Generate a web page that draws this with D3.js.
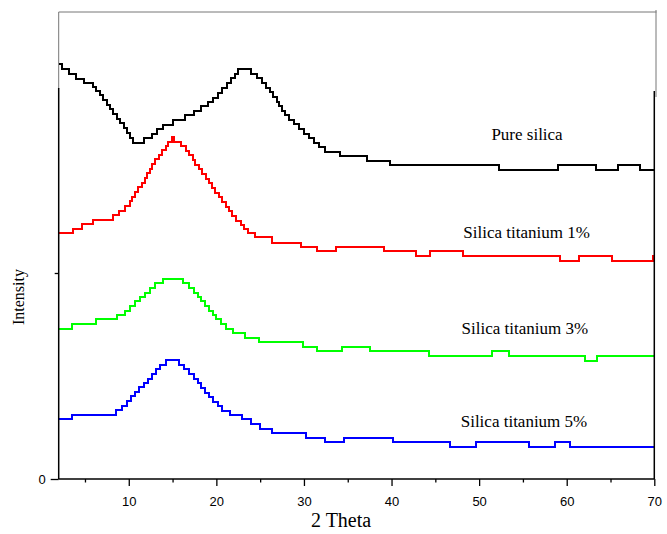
<!DOCTYPE html>
<html><head><meta charset="utf-8">
<script src="https://cdn.jsdelivr.net/npm/d3@7"></script>
<style>html,body{margin:0;padding:0;background:#fff;}svg{display:block;}</style>
</head><body>
<svg id="chart" width="667" height="534"></svg>
<script>
// 2θ (degrees) vs intensity (a.u.), step profiles
const pureSilica = [[2,2074],[2.4,2049],[3.2,2025],[4.0,2002],[4.9,1982],[5.9,1962],[6.3,1942],[6.7,1920],[7.1,1895],[7.5,1872],[7.9,1850],[8.2,1825],[8.6,1802],[9.0,1780],[9.4,1755],[9.8,1730],[10.1,1705],[10.5,1682],[11.7,1704],[12.6,1725],[13.2,1750],[13.9,1772],[15.0,1797],[16.4,1819],[17.4,1842],[18.2,1865],[19.1,1884],[19.6,1907],[20.2,1930],[20.6,1954],[21.2,1979],[21.7,2004],[22.1,2027],[22.5,2049],[24.0,2027],[24.6,2004],[25.2,1980],[25.7,1957],[26.1,1934],[26.5,1910],[26.9,1887],[27.1,1865],[27.5,1842],[27.8,1820],[28.3,1797],[28.9,1774],[29.4,1750],[30.0,1727],[30.6,1704],[31.1,1680],[31.7,1658],[32.4,1636],[34.1,1616],[37.2,1592],[39.8,1570],[52.3,1545],[59.0,1570],[63.4,1545],[65.9,1569],[68.4,1545],[70,1545]];
const titanium1 = [[2,1228],[3.6,1250],[4.7,1274],[5.9,1295],[8.2,1320],[8.9,1342],[9.6,1365],[10.1,1388],[10.4,1412],[10.7,1434],[11.1,1458],[11.5,1482],[11.8,1505],[12.1,1528],[12.4,1552],[12.7,1575],[13.0,1598],[13.4,1620],[13.8,1644],[14.2,1665],[14.5,1686],[14.9,1708],[15.2,1686],[16.0,1665],[16.5,1642],[16.9,1618],[17.3,1595],[17.6,1572],[18.0,1548],[18.4,1525],[18.8,1502],[19.2,1478],[19.5,1455],[19.9,1432],[20.3,1408],[20.7,1385],[21.1,1362],[21.4,1338],[21.8,1315],[22.2,1292],[22.8,1270],[23.2,1248],[23.6,1228],[24.4,1208],[26.4,1182],[29.7,1162],[31.5,1138],[33.7,1162],[39.1,1138],[42.8,1115],[44.4,1138],[48.2,1115],[59.2,1092],[61.4,1115],[65.2,1092],[69.9,1115],[70,1115]];
const titanium3 = [[2,752],[3.5,775],[6.3,798],[8.7,820],[9.6,842],[10.1,865],[10.7,888],[11.3,910],[11.9,932],[12.4,955],[13.0,978],[13.9,1002],[16.2,978],[16.9,955],[17.5,932],[17.9,910],[18.3,888],[18.7,865],[19.2,842],[19.6,820],[20.0,798],[20.5,775],[21.1,752],[21.9,728],[23.3,705],[24.9,684],[29.9,662],[31.5,638],[34.3,662],[37.5,638],[44.3,615],[51.5,638],[53.4,615],[62.1,592],[63.5,615],[70,615]];
const titanium5 = [[2,298],[3.5,322],[8.5,345],[9.2,366],[9.8,390],[10.3,414],[10.7,435],[11.2,458],[11.7,480],[12.2,502],[12.6,525],[13.1,548],[13.6,570],[14.2,594],[15.7,570],[16.3,548],[16.9,525],[17.4,502],[17.9,478],[18.3,455],[18.7,432],[19.2,408],[19.6,386],[20.2,365],[20.6,342],[21.6,320],[22.9,298],[23.9,275],[25.0,252],[26.4,229],[30.2,206],[32.4,184],[34.6,206],[40.2,184],[46.7,160],[49.7,184],[55.7,160],[58.7,184],[60.4,160],[70,160]];

const seriesNames = ["Pure silica","Silica titanium 1%","Silica titanium 3%","Silica titanium 5%"];
const seriesData = [pureSilica, titanium1, titanium3, titanium5];
const seriesColors = ["#000000","#ff0000","#00ff00","#0000ff"];
const labelPos = [[51.4,1695],[48.2,1203],[48.0,725],[47.9,258]]; // [2θ, intensity] of label start/baseline

const xMajorTicks = [10,20,30,40,50,60,70];
const xMinorTicks = [5,15,25,35,45,55,65];
const yMajorTicks = [0];
const yMinorTicks = [1030];

const svg = d3.select("#chart");
const x = d3.scaleLinear().domain([2,70]).range([58.7,654.3]);
const y = d3.scaleLinear().domain([0,2335]).range([479,12]);

// frame (thin grey)
svg.append("line").attr("x1",x(2)).attr("x2",656.5).attr("y1",y(2335)).attr("y2",y(2335)).attr("stroke","#777").attr("stroke-width",1);
svg.append("line").attr("x1",x(2)).attr("x2",x(2)).attr("y1",y(2335)).attr("y2",y(1950)).attr("stroke","#777").attr("stroke-width",1);
svg.append("line").attr("x1",656).attr("x2",656).attr("y1",10).attr("y2",97).attr("stroke","#777").attr("stroke-width",1);

// curves
const line = d3.line().x(d=>x(d[0])).y(d=>y(d[1])).curve(d3.curveStepAfter);
seriesData.forEach((s,i)=>{
  svg.append("path").datum(s).attr("d",line).attr("fill","none")
    .attr("stroke",seriesColors[i]).attr("stroke-width",2).attr("shape-rendering","crispEdges");
});

// axes
const axFont = "'Liberation Sans', Arial, sans-serif";
const gx = svg.append("g").attr("transform",`translate(0,${y(0)})`)
  .call(d3.axisBottom(x).tickValues(xMajorTicks).tickSize(7).tickPadding(11).tickFormat(d3.format("d")));
const gxm = svg.append("g").attr("transform",`translate(0,${y(0)})`)
  .call(d3.axisBottom(x).tickValues(xMinorTicks).tickSize(3.5).tickFormat(""));
const gy = svg.append("g").attr("transform",`translate(${x(2)},0)`)
  .call(d3.axisLeft(y).tickValues(yMajorTicks).tickSize(8).tickPadding(5).tickFormat(d3.format("d")));
const gym = svg.append("g").attr("transform",`translate(${x(2)},0)`)
  .call(d3.axisLeft(y).tickValues(yMinorTicks).tickSize(4).tickFormat(""));
[gx,gxm,gy,gym].forEach(g=>{
  g.select(".domain").remove();
  g.selectAll(".tick line").attr("stroke","#000").attr("stroke-width",1.3);
  g.selectAll(".tick text").attr("fill","#000").style("font-family",axFont).style("font-size","13px");
});

// axis lines
svg.append("line").attr("x1",x(2)).attr("x2",x(70)).attr("y1",y(0)).attr("y2",y(0)).attr("stroke","#000").attr("stroke-width",1.5);
svg.append("line").attr("x1",x(2)).attr("x2",x(2)).attr("y1",y(0)).attr("y2",y(1955)).attr("stroke","#000").attr("stroke-width",1.5);
svg.append("line").attr("x1",x(70)).attr("x2",x(70)).attr("y1",y(0)).attr("y2",y(1940)).attr("stroke","#000").attr("stroke-width",1.5);

// titles
const serif = "'Liberation Serif', 'Times New Roman', serif";
svg.append("text").attr("x",311).attr("y",527).text("2 Theta")
  .style("font-family",serif).style("font-size","20px").attr("fill","#000");
svg.append("text").attr("transform","translate(24,297) rotate(-90)").attr("text-anchor","middle").text("Intensity")
  .style("font-family",serif).style("font-size","16px").attr("fill","#000");

// series labels
seriesNames.forEach((n,i)=>{
  svg.append("text").attr("x",x(labelPos[i][0])).attr("y",y(labelPos[i][1])).text(n)
    .style("font-family",serif).style("font-size","17px").attr("fill","#000");
});
</script>
</body></html>
